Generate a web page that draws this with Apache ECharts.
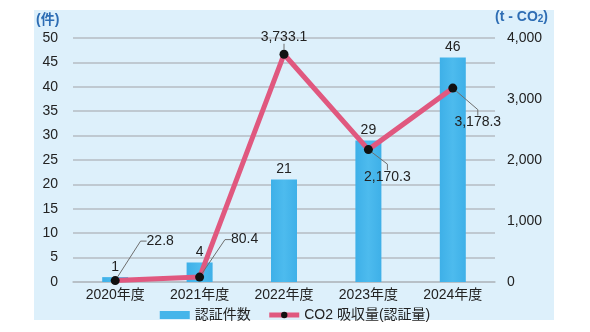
<!DOCTYPE html>
<html>
<head>
<meta charset="utf-8">
<script src="https://cdn.jsdelivr.net/npm/echarts@6/dist/echarts.min.js"></script>
<style>
  html, body { margin: 0; padding: 0; background: #fff; }
  #chart { width: 590px; height: 332px; }
</style>
</head>
<body>
<div id="chart"></div>
<script>
// Fiscal years and the two measures plotted for each
const categories = ['2020年度', '2021年度', '2022年度', '2023年度', '2024年度'];
const certCounts = [1, 4, 21, 29, 46];          // 認証件数 (件)
const co2Amounts = [22.8, 80.4, 3733.1, 2170.3, 3178.3]; // CO2 吸収量 (t-CO2)

const leftTicks = { min: 0, max: 50, interval: 5 };
const rightTicks = { min: 0, max: 4000, interval: 1000 };

// Label offsets (dx, dy) for the CO2 value labels, relative to their default spot
const co2LabelShift = [[45, -22], [45, -20], [0, 0], [19, 45], [25, 52]];

const FONT = "'Liberation Sans', 'Noto Sans CJK JP', sans-serif";
const TEXT = '#222';
const PINK = '#e0587f';

const fmt = v => v.toLocaleString('en-US', { minimumFractionDigits: 1, maximumFractionDigits: 1 });

const chart = echarts.init(document.getElementById('chart'), null, { renderer: 'canvas' });

chart.setOption({
  backgroundColor: '#ffffff',
  textStyle: { fontFamily: FONT },
  animation: false,
  graphic: [
    {
      type: 'rect', z: -10, silent: true,
      shape: { x: 34, y: 10, width: 520, height: 310 },
      style: { fill: '#ddf0fb' }
    },
    {
      type: 'text', left: 36, top: 13,
      style: { text: '(件)', fill: '#2d6db4', font: 'bold 14px ' + FONT }
    },
    {
      type: 'text', left: 495, top: 10,
      style: {
        text: '{a|(t - CO}{b|2}{a|)}',
        rich: {
          a: { fill: '#2d6db4', font: 'bold 14px ' + FONT },
          b: { fill: '#2d6db4', font: 'bold 10px ' + FONT, padding: [5, 0, 0, 0] }
        }
      }
    }
  ],
  grid: { left: 73, right: 95, top: 38, bottom: 50 },
  legend: {
    bottom: 5,
    left: 'center',
    itemGap: 16,
    textStyle: { fontSize: 14, color: TEXT, fontFamily: FONT },
    data: [
      { name: '認証件数', icon: 'rect', itemStyle: { color: '#45b5ea' } },
      {
        name: 'CO2 吸収量(認証量)',
        lineStyle: { color: PINK, width: 5 },
        itemStyle: { color: '#111' }
      }
    ],
    itemWidth: 30,
    itemHeight: 8
  },
  xAxis: {
    type: 'category',
    data: categories,
    axisLine: { lineStyle: { color: '#b5bdc3', width: 1.5 } },
    axisTick: { show: false },
    axisLabel: { fontSize: 14, color: TEXT, margin: 6, fontFamily: FONT }
  },
  yAxis: [
    {
      type: 'value',
      min: leftTicks.min, max: leftTicks.max, interval: leftTicks.interval,
      axisLine: { show: false },
      axisTick: { show: false },
      axisLabel: { fontSize: 14, color: TEXT, margin: 15, fontFamily: FONT },
      splitLine: { lineStyle: { color: '#b5bdc3', width: 1.5 } }
    },
    {
      type: 'value',
      min: rightTicks.min, max: rightTicks.max, interval: rightTicks.interval,
      alignTicks: false,
      axisLine: { show: false },
      axisTick: { show: false },
      splitLine: { show: false },
      axisLabel: {
        fontSize: 14, color: TEXT, margin: 12, fontFamily: FONT,
        formatter: v => v.toLocaleString('en-US')
      }
    }
  ],
  series: [
    {
      name: '認証件数',
      type: 'bar',
      yAxisIndex: 0,
      data: certCounts,
      barWidth: 26,
      itemStyle: {
        color: new echarts.graphic.LinearGradient(0, 0, 1, 0, [
          { offset: 0, color: '#3eb0e8' },
          { offset: 0.5, color: '#4dbbee' },
          { offset: 1, color: '#3eb0e8' }
        ])
      },
      label: {
        show: true, position: 'top', distance: 3,
        fontSize: 14, color: TEXT, fontFamily: FONT
      },
      z: 2
    },
    {
      name: 'CO2 吸収量(認証量)',
      type: 'line',
      yAxisIndex: 1,
      data: co2Amounts,
      symbol: 'circle',
      symbolSize: 9,
      itemStyle: { color: '#111' },
      lineStyle: { color: PINK, width: 5 },
      label: {
        show: true, position: 'top', distance: 6,
        fontSize: 14, color: TEXT, fontFamily: FONT,
        formatter: p => fmt(p.value)
      },
      labelLine: {
        show: true,
        length2: 6,
        lineStyle: { color: '#6e6e6e', width: 1 }
      },
      labelLayout: p => {
        const s = co2LabelShift[p.dataIndex];
        return { dx: s[0], dy: s[1] };
      },
      z: 3
    }
  ]
});
</script>
</body>
</html>
